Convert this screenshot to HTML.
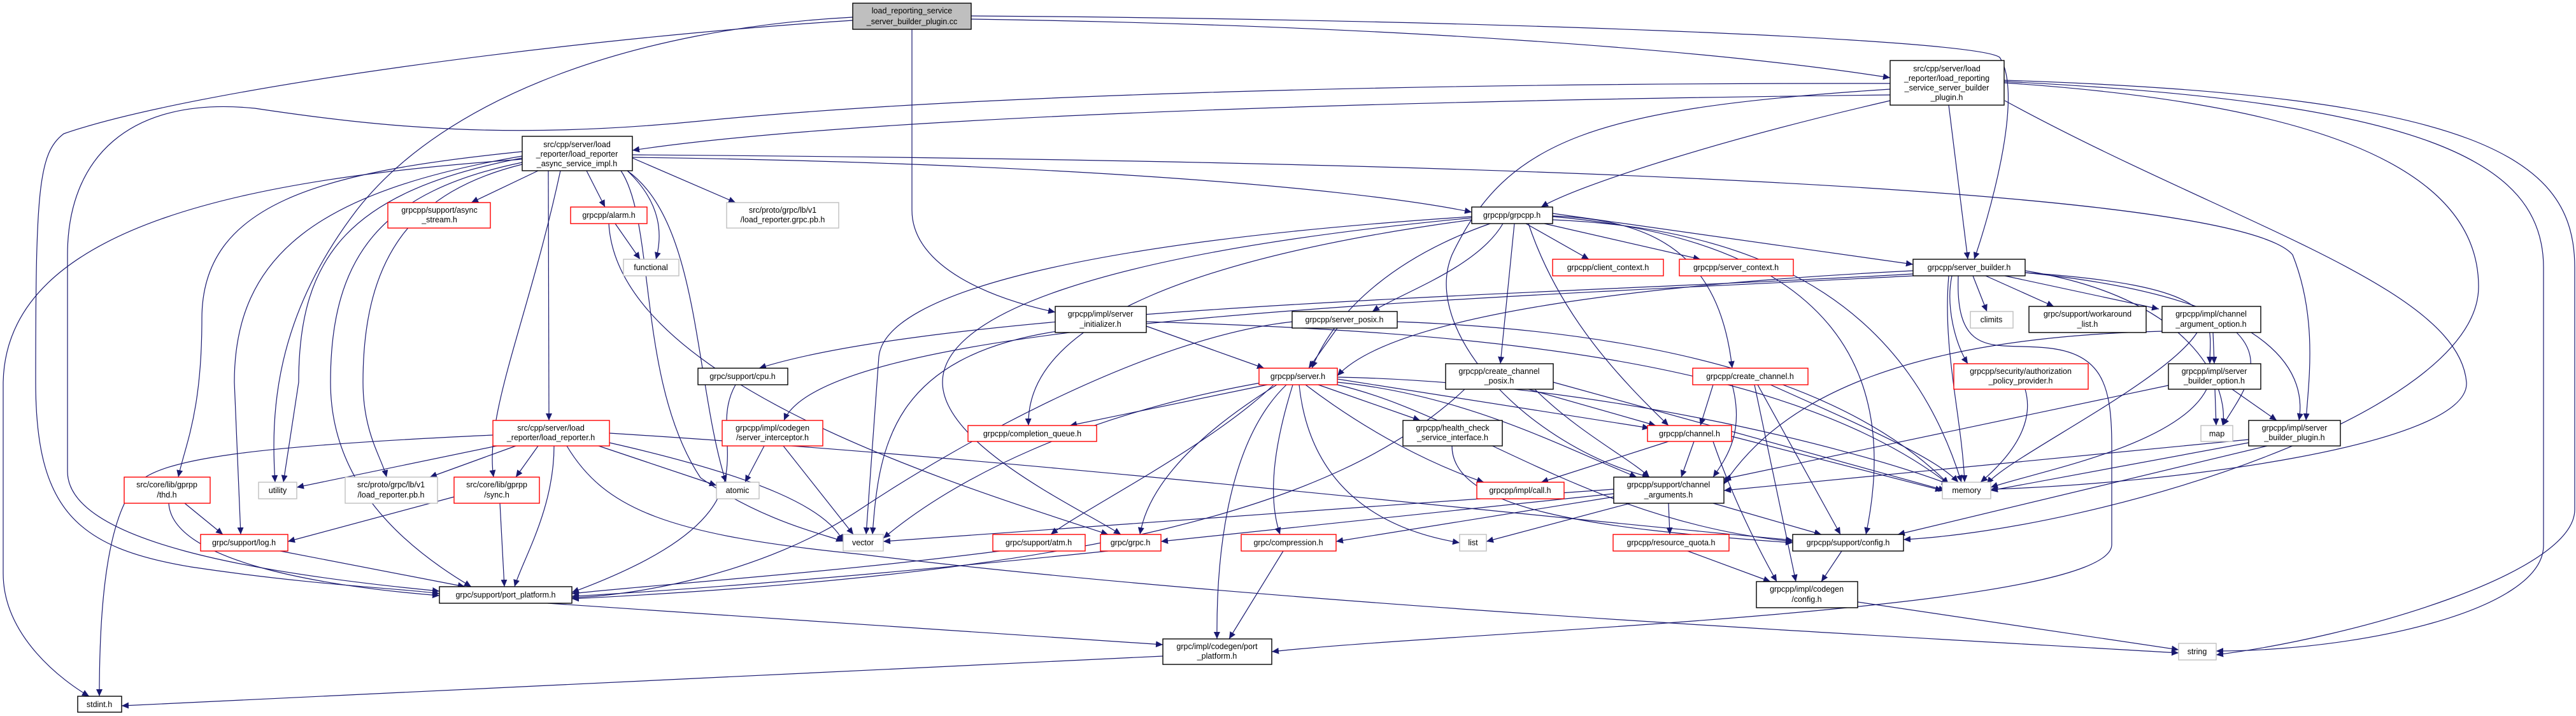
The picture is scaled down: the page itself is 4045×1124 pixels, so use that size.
<!DOCTYPE html>
<html><head><meta charset="utf-8"><style>
html,body{margin:0;padding:0;background:#fff}
svg{display:block}
text{font-family:"Liberation Sans",sans-serif;font-size:12.5px;fill:#000;text-anchor:middle}
.e{fill:none;stroke:#191970;stroke-width:1.2}
.b{fill:#fff;stroke:#000;stroke-width:1.4}
.r{fill:#fff;stroke:#ff0000;stroke-width:1.4}
.g{fill:#fff;stroke:#bfbfbf;stroke-width:1.4}
</style></head><body>
<svg width="4045" height="1124" viewBox="0 0 4045 1124" xmlns="http://www.w3.org/2000/svg">
<defs><marker id="a" markerUnits="userSpaceOnUse" markerWidth="12" markerHeight="10" refX="11" refY="5" orient="auto"><path d="M0,0 L11,5 L0,10 z" fill="#191970"/></marker></defs>
<g class="e" marker-end="url(#a)">
<path d="M1525,30 C2200,40 2700,80 2968,122"/>
<path d="M1525,25 C2300,30 3100,60 3140,90 C3180,150 3120,350 3100,407"/>
<path d="M1432,46 L1432,330 C1432,420 1560,470 1657,490"/>
<path d="M1339,27 C1000,45 700,150 560,330 C430,500 425,650 432,757"/>
<path d="M1339,32 C900,60 300,140 100,210 C60,240 56,300 56,600 C56,800 120,860 300,890 C500,920 650,925 690,932"/>
<path d="M2968,149 C2000,160 1300,190 993,236"/>
<path d="M2968,158 C2700,220 2480,290 2420,325"/>
<path d="M3060,165 L3090,407"/>
<path d="M2968,131 C2200,130 1500,150 1100,190 C800,220 600,200 400,170 C200,150 106,250 106,400 L106,740 C106,850 400,900 690,928"/>
<path d="M3148,158 C3500,350 3860,450 3873,600 C3880,700 3400,760 3126,768"/>
<path d="M3147,130 C3600,160 3892,250 3892,450 C3892,650 3300,830 2989,847"/>
<path d="M3147,128 C3800,160 3994,250 3994,420 L3994,856 C3994,960 3700,1022 3480,1022"/>
<path d="M3147,126 C3900,150 4043,250 4043,420 L4043,800 C4043,900 3700,1000 3480,1028"/>
<path d="M2968,140 C2500,170 2366,220 2280,400 C2230,520 2400,700 2590,749"/>
<path d="M845,268 L740,318"/>
<path d="M921,268 L950,325"/>
<path d="M985,268 C1040,320 1040,370 1030,407"/>
<path d="M993,248 L1155,318"/>
<path d="M861,268 L862,660"/>
<path d="M993,247 C1600,255 2100,290 2311,333"/>
<path d="M993,243 C2000,250 3500,280 3600,400 C3640,500 3625,600 3621,660"/>
<path d="M820,250 C400,280 10,350 5,600 L5,900 C5,1000 100,1070 140,1093"/>
<path d="M820,238 C500,270 317,320 317,500 C317,650 290,700 280,749"/>
<path d="M820,245 C500,300 368,400 368,600 L378,839"/>
<path d="M820,248 C550,300 469,400 469,600 L445,757"/>
<path d="M820,255 C600,300 519,400 519,600 C519,750 620,850 740,921"/>
<path d="M820,258 C650,300 570,400 570,600 C570,680 600,720 607,749"/>
<path d="M880,268 C830,500 760,650 775,749"/>
<path d="M985,268 C1100,350 1090,600 1140,757"/>
<path d="M975,268 C1030,350 1000,600 1100,750 C1200,820 1300,840 1324,850"/>
<path d="M2438,335 L3004,415"/>
<path d="M2396,351 L2495,407"/>
<path d="M2425,351 L2670,407"/>
<path d="M2360,351 C2320,420 2200,460 2155,489"/>
<path d="M2378,351 L2356,571"/>
<path d="M2438,339 C2600,345 2700,400 2720,578"/>
<path d="M2400,351 C2450,500 2550,600 2620,668"/>
<path d="M2340,351 C2200,400 2100,480 2060,578"/>
<path d="M2311,340 C1700,380 1390,460 1380,560 L1360,839"/>
<path d="M2311,345 C1900,400 1610,500 1615,668"/>
<path d="M2311,342 C1700,400 1480,500 1480,600 C1480,700 1700,800 1760,839"/>
<path d="M2438,345 C2800,360 3000,500 3080,757"/>
<path d="M2438,340 C2900,380 2980,600 2930,839"/>
<path d="M3098,433 L3120,489"/>
<path d="M3118,433 L3225,481"/>
<path d="M3148,433 L3390,485"/>
<path d="M3004,425 C2700,440 2200,480 2100,590"/>
<path d="M3065,433 C3055,480 3070,540 3090,571"/>
<path d="M3180,428 C3500,450 3470,500 3470,571"/>
<path d="M3180,425 C3460,470 3500,620 3490,668"/>
<path d="M3180,428 C3600,470 3620,600 3610,660"/>
<path d="M3060,433 C3050,550 3080,650 3085,757"/>
<path d="M3075,433 C3070,560 3130,540 3200,545 C3300,550 3316,600 3316,700 L3316,855 C3316,960 2300,990 1997,1023"/>
<path d="M3004,430 C2500,460 1500,480 1192,578"/>
<path d="M3004,433 C2300,470 1300,500 1231,660"/>
<path d="M1990,604 L1680,668"/>
<path d="M1985,600 C1700,650 1500,750 1387,845"/>
<path d="M2000,604 C1900,700 1700,800 1650,839"/>
<path d="M2030,604 C2000,700 1990,780 2010,839"/>
<path d="M2020,604 C1920,700 1910,900 1911,1003"/>
<path d="M2040,604 C2050,700 2100,820 2292,852"/>
<path d="M2050,604 C2150,680 2250,730 2330,757"/>
<path d="M2070,604 L2230,660"/>
<path d="M2100,595 L2590,672"/>
<path d="M2100,600 C2300,620 2450,700 2570,749"/>
<path d="M2100,604 C2300,650 2500,820 2815,850"/>
<path d="M2100,592 C2500,600 2900,700 3060,760"/>
<path d="M2005,604 C1850,700 1800,780 1790,839"/>
<path d="M1800,512 L1985,578"/>
<path d="M1660,520 C1400,560 1380,700 1370,839"/>
<path d="M1800,505 C2300,520 2800,560 3060,760"/>
<path d="M2100,515 L2055,578"/>
<path d="M2194,505 C2600,520 2900,600 3060,760"/>
<path d="M2030,505 C1800,530 1500,700 1350,800 C1200,900 1000,935 898,938"/>
<path d="M2400,611 L2600,668"/>
<path d="M2410,611 C2480,680 2560,720 2590,749"/>
<path d="M2439,600 L3055,770"/>
<path d="M2300,611 C2100,800 1700,900 898,940"/>
<path d="M2690,604 L2670,668"/>
<path d="M2720,604 C2740,680 2710,720 2690,749"/>
<path d="M2780,604 C2950,680 3040,720 3075,757"/>
<path d="M2760,604 L2890,839"/>
<path d="M2755,604 L2820,913"/>
<path d="M3180,611 C3200,680 3130,740 3110,757"/>
<path d="M3478,611 L3480,668"/>
<path d="M3505,611 L3575,660"/>
<path d="M3465,611 C3420,700 3200,740 3126,765"/>
<path d="M3405,605 L2707,752"/>
<path d="M3475,522 L3477,571"/>
<path d="M3512,522 C3560,570 3520,620 3490,668"/>
<path d="M3395,520 C3000,530 2800,620 2707,760"/>
<path d="M3450,522 C3400,600 3150,720 3120,760"/>
<path d="M3531,695 L3126,770"/>
<path d="M3560,700 L2980,839"/>
<path d="M3531,690 L2707,770"/>
<path d="M2620,693 L2420,757"/>
<path d="M2660,693 L2640,749"/>
<path d="M2719,685 L3050,770"/>
<path d="M2690,693 C2720,780 2760,860 2790,913"/>
<path d="M2534,768 L1387,850"/>
<path d="M2534,775 L1823,850"/>
<path d="M2534,780 L2098,850"/>
<path d="M2560,790 L2334,850"/>
<path d="M2620,790 L2622,839"/>
<path d="M2690,790 L2860,839"/>
<path d="M2280,700 C2280,800 2500,830 2815,852"/>
<path d="M2650,865 L2780,913"/>
<path d="M2892,865 L2860,913"/>
<path d="M2917,945 L3421,1020"/>
<path d="M774,683 C400,700 250,720 215,760 C160,820 156,1000 156,1093"/>
<path d="M780,700 L466,765"/>
<path d="M810,700 L675,749"/>
<path d="M845,700 L810,749"/>
<path d="M870,700 C870,800 820,880 808,921"/>
<path d="M940,700 L1125,762"/>
<path d="M957,695 C1200,750 1300,800 1324,850"/>
<path d="M957,680 C1600,720 2300,800 2815,848"/>
<path d="M890,700 C950,800 1050,840 1350,870 C2000,950 3000,1000 3421,1025"/>
<path d="M290,790 L350,839"/>
<path d="M265,790 C270,880 500,920 690,935"/>
<path d="M713,780 L452,850"/>
<path d="M785,790 L792,921"/>
<path d="M440,865 L730,921"/>
<path d="M1155,604 C1100,700 1250,800 898,930"/>
<path d="M1200,700 L1170,757"/>
<path d="M1230,700 L1340,839"/>
<path d="M1570,865 C1300,900 1000,920 898,932"/>
<path d="M1740,865 C1400,900 1100,925 898,936"/>
<path d="M2015,865 L1930,1003"/>
<path d="M860,947 C1200,970 1500,990 1826,1012"/>
<path d="M1826,1030 L191,1108"/>
<path d="M966,351 L1005,407"/>
<path d="M956,351 C970,600 1500,760 1740,839"/>
</g>
<g>
<rect x="1339" y="5" width="186" height="41" fill="#bfbfbf" stroke="#000" stroke-width="1.4"/>
<text x="1432" y="21">load_reporting_service</text><text x="1432" y="38">_server_builder_plugin.cc</text>
<rect class="b" x="2968" y="95" width="179" height="70"/>
<text x="3057" y="112">src/cpp/server/load</text><text x="3057" y="127">_reporter/load_reporting</text><text x="3057" y="142">_service_server_builder</text><text x="3057" y="157">_plugin.h</text>
<rect class="b" x="820" y="214" width="173" height="54"/>
<text x="906" y="231">src/cpp/server/load</text><text x="906" y="246">_reporter/load_reporter</text><text x="906" y="261">_async_service_impl.h</text>
<rect class="r" x="609" y="318" width="161" height="40"/><text x="690" y="334">grpcpp/support/async</text><text x="690" y="349">_stream.h</text>
<rect class="r" x="896" y="325" width="120" height="26"/><text x="956" y="342">grpcpp/alarm.h</text>
<rect class="g" x="979" y="407" width="87" height="26"/><text x="1022" y="424">functional</text>
<rect class="g" x="1141" y="318" width="176" height="40"/><text x="1229" y="334">src/proto/grpc/lb/v1</text><text x="1229" y="349">/load_reporter.grpc.pb.h</text>
<rect class="b" x="2311" y="325" width="127" height="26"/><text x="2374" y="342">grpcpp/grpcpp.h</text>
<rect class="r" x="2438" y="407" width="174" height="26"/><text x="2525" y="424">grpcpp/client_context.h</text>
<rect class="r" x="2637" y="407" width="179" height="26"/><text x="2726" y="424">grpcpp/server_context.h</text>
<rect class="b" x="3004" y="407" width="176" height="26"/><text x="3092" y="424">grpcpp/server_builder.h</text>
<rect class="b" x="1657" y="481" width="143" height="41"/><text x="1728" y="497">grpcpp/impl/server</text><text x="1728" y="513">_initializer.h</text>
<rect class="b" x="2029" y="489" width="165" height="26"/><text x="2111" y="506">grpcpp/server_posix.h</text>
<rect class="g" x="3094" y="489" width="67" height="26"/><text x="3127" y="506">climits</text>
<rect class="b" x="3186" y="481" width="184" height="41"/><text x="3278" y="497">grpc/support/workaround</text><text x="3278" y="513">_list.h</text>
<rect class="b" x="3395" y="481" width="155" height="41"/><text x="3472" y="497">grpcpp/impl/channel</text><text x="3472" y="513">_argument_option.h</text>
<rect class="b" x="1096" y="578" width="141" height="26"/><text x="1166" y="595">grpc/support/cpu.h</text>
<rect class="r" x="1977" y="578" width="123" height="26"/><text x="2038" y="595">grpcpp/server.h</text>
<rect class="b" x="2270" y="571" width="169" height="40"/><text x="2354" y="587">grpcpp/create_channel</text><text x="2354" y="602">_posix.h</text>
<rect class="r" x="2658" y="578" width="181" height="26"/><text x="2748" y="595">grpcpp/create_channel.h</text>
<rect class="r" x="3068" y="571" width="211" height="40"/><text x="3173" y="587">grpcpp/security/authorization</text><text x="3173" y="602">_policy_provider.h</text>
<rect class="b" x="3405" y="571" width="145" height="40"/><text x="3477" y="587">grpcpp/impl/server</text><text x="3477" y="602">_builder_option.h</text>
<rect class="r" x="774" y="660" width="183" height="40"/><text x="865" y="676">src/cpp/server/load</text><text x="865" y="691">_reporter/load_reporter.h</text>
<rect class="r" x="1134" y="660" width="158" height="40"/><text x="1213" y="676">grpcpp/impl/codegen</text><text x="1213" y="691">/server_interceptor.h</text>
<rect class="r" x="1520" y="668" width="202" height="25"/><text x="1621" y="685">grpcpp/completion_queue.h</text>
<rect class="b" x="2203" y="660" width="156" height="40"/><text x="2281" y="676">grpcpp/health_check</text><text x="2281" y="691">_service_interface.h</text>
<rect class="r" x="2587" y="668" width="132" height="25"/><text x="2653" y="685">grpcpp/channel.h</text>
<rect class="g" x="3456" y="668" width="50" height="25"/><text x="3481" y="685">map</text>
<rect class="b" x="3531" y="660" width="144" height="40"/><text x="3603" y="676">grpcpp/impl/server</text><text x="3603" y="691">_builder_plugin.h</text>
<rect class="r" x="195" y="749" width="135" height="41"/><text x="262" y="765">src/core/lib/gprpp</text><text x="262" y="781">/thd.h</text>
<rect class="g" x="406" y="757" width="60" height="26"/><text x="436" y="774">utility</text>
<rect class="g" x="542" y="749" width="145" height="41"/><text x="614" y="765">src/proto/grpc/lb/v1</text><text x="614" y="781">/load_reporter.pb.h</text>
<rect class="r" x="713" y="749" width="134" height="41"/><text x="780" y="765">src/core/lib/gprpp</text><text x="780" y="781">/sync.h</text>
<rect class="g" x="1125" y="757" width="67" height="26"/><text x="1158" y="774">atomic</text>
<rect class="r" x="2319" y="757" width="137" height="26"/><text x="2387" y="774">grpcpp/impl/call.h</text>
<rect class="b" x="2534" y="749" width="173" height="41"/><text x="2620" y="765">grpcpp/support/channel</text><text x="2620" y="781">_arguments.h</text>
<rect class="g" x="3050" y="757" width="76" height="26"/><text x="3088" y="774">memory</text>
<rect class="r" x="315" y="839" width="137" height="26"/><text x="383" y="856">grpc/support/log.h</text>
<rect class="g" x="1324" y="839" width="63" height="26"/><text x="1355" y="856">vector</text>
<rect class="r" x="1559" y="839" width="145" height="26"/><text x="1631" y="856">grpc/support/atm.h</text>
<rect class="r" x="1728" y="839" width="95" height="26"/><text x="1775" y="856">grpc/grpc.h</text>
<rect class="r" x="1949" y="839" width="149" height="26"/><text x="2023" y="856">grpc/compression.h</text>
<rect class="g" x="2292" y="839" width="42" height="26"/><text x="2313" y="856">list</text>
<rect class="r" x="2533" y="839" width="182" height="26"/><text x="2624" y="856">grpcpp/resource_quota.h</text>
<rect class="b" x="2815" y="839" width="174" height="26"/><text x="2902" y="856">grpcpp/support/config.h</text>
<rect class="b" x="690" y="921" width="208" height="26"/><text x="794" y="938">grpc/support/port_platform.h</text>
<rect class="b" x="2758" y="913" width="159" height="41"/><text x="2837" y="929">grpcpp/impl/codegen</text><text x="2837" y="945">/config.h</text>
<rect class="b" x="1826" y="1003" width="171" height="40"/><text x="1911" y="1019">grpc/impl/codegen/port</text><text x="1911" y="1034">_platform.h</text>
<rect class="g" x="3421" y="1010" width="59" height="26"/><text x="3450" y="1027">string</text>
<rect class="b" x="122" y="1093" width="69" height="25"/><text x="156" y="1110">stdint.h</text>
</g>
</svg>
</body></html>
